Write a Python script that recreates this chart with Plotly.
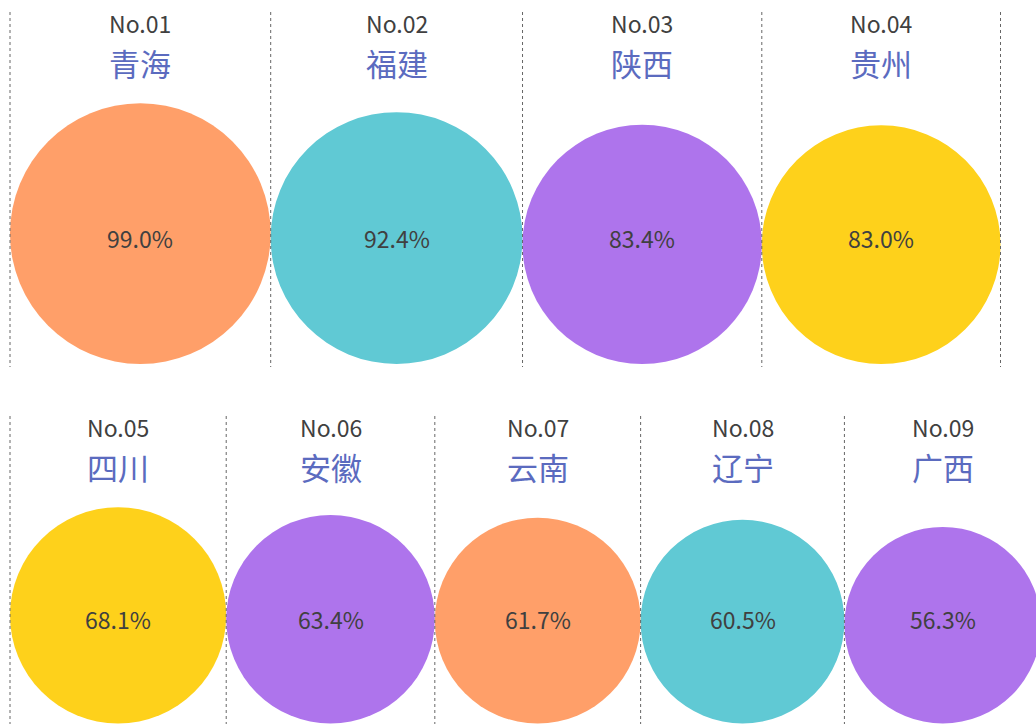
import math
import plotly.graph_objects as go

# ---- data ----
provinces = ["青海", "福建", "陕西", "贵州", "四川", "安徽", "云南", "辽宁", "广西"]
values = [99.0, 92.4, 83.4, 83.0, 68.1, 63.4, 61.7, 60.5, 56.3]
row_sizes = [4, 5]

# ---- styles ----
palette = ["#FF9F69", "#60C9D4", "#AE74EC", "#FED11B", "#FED11B",
           "#AE74EC", "#FF9F69", "#60C9D4", "#AE74EC"]
W, H = 1036, 724
K = 26.2            # px per sqrt(value) (area-proportional circles)
X0 = 10
rows_cfg = [
    dict(bottom=364, sep_top=12, sep_bot=367, no_y=23, name_y=62, pct_y=238, right_sep=True),
    dict(bottom=723.5, sep_top=416, sep_bot=730, no_y=427, name_y=466, pct_y=619, right_sep=False),
]
FONT = "Noto Sans CJK SC"

fig = go.Figure()
shapes = []
annotations = []

idx = 0
for r, n in enumerate(row_sizes):
    cfg = rows_cfg[r]
    x = X0
    for j in range(n):
        v = values[idx]
        d = K * math.sqrt(v)
        cx = x + d / 2
        # separator at the column's left edge
        shapes.append(dict(type="line", xref="x", yref="y", x0=x, x1=x,
                           y0=cfg["sep_top"], y1=cfg["sep_bot"],
                           line=dict(color="#666666", width=1, dash="dot"), layer="above"))
        shapes.append(dict(type="circle", xref="x", yref="y",
                           x0=x, x1=x + d, y0=cfg["bottom"] - d, y1=cfg["bottom"],
                           fillcolor=palette[idx], line=dict(width=0), layer="below"))
        annotations.append(dict(x=cx, y=cfg["no_y"], xref="x", yref="y",
                                text=f"No.{idx + 1:02d}", showarrow=False,
                                font=dict(family=FONT, size=23, color="#404040"),
                                xanchor="center", yanchor="middle"))
        annotations.append(dict(x=cx, y=cfg["name_y"], xref="x", yref="y",
                                text=provinces[idx], showarrow=False,
                                font=dict(family=FONT, size=31, color="#5B6BBF"),
                                xanchor="center", yanchor="middle"))
        annotations.append(dict(x=cx, y=cfg["pct_y"], xref="x", yref="y",
                                text=f"{v:.1f}%", showarrow=False,
                                font=dict(family=FONT, size=23, color="#404040"),
                                xanchor="center", yanchor="middle"))
        x += d
        idx += 1
    if cfg["right_sep"]:
        shapes.append(dict(type="line", xref="x", yref="y", x0=x, x1=x,
                           y0=cfg["sep_top"], y1=cfg["sep_bot"],
                           line=dict(color="#666666", width=1, dash="dot"), layer="above"))

fig.update_layout(
    width=W, height=H,
    margin=dict(l=0, r=0, t=0, b=0),
    paper_bgcolor="white", plot_bgcolor="white",
    xaxis=dict(range=[0, W], visible=False, fixedrange=True),
    yaxis=dict(range=[H, 0], visible=False, fixedrange=True),
    shapes=shapes, annotations=annotations, showlegend=False,
)
fig.write_html("out.html")
